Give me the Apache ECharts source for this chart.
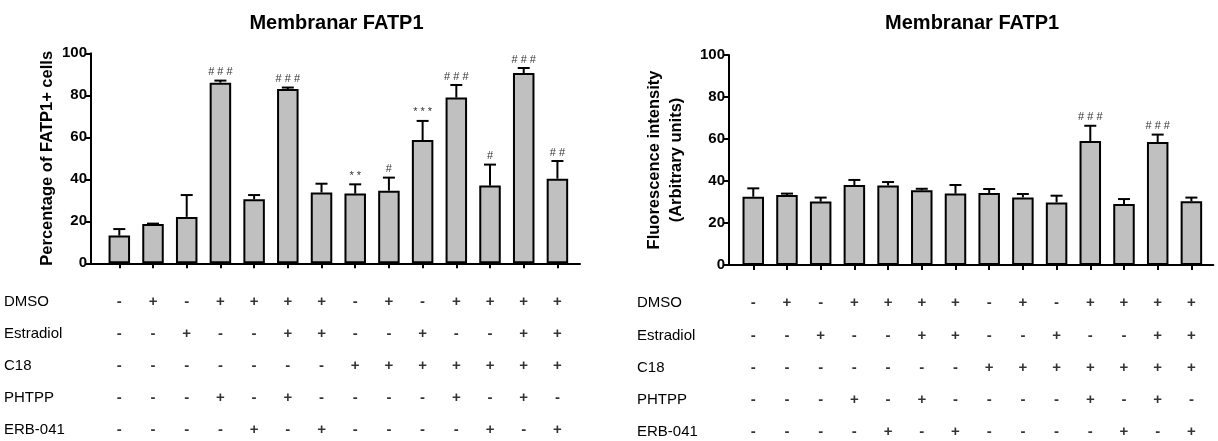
<!DOCTYPE html>
<html><head><meta charset="utf-8">
<script src="https://cdn.jsdelivr.net/npm/echarts@6/dist/echarts.min.js"></script>
<style>html,body{margin:0;padding:0;background:#fff}#c{width:1218px;height:441px}</style>
</head><body><div id="c"></div>
<script>
// ---- data ----
const groups = [1,2,3,4,5,6,7,8,9,10,11,12,13,14];
const pctMean = [13.2,18.7,22.1,86.0,30.5,83.0,33.7,33.2,34.6,58.7,78.9,37.0,90.6,40.3];
const pctSem  = [3.1,0.2,10.4,1.0,2.0,0.7,4.2,4.4,6.2,9.1,6.0,10.0,2.4,8.4];
const pctSig  = ['','','','###','','###','','**','#','***','###','#','###','##'];
const fluoMean = [32.5,33.3,30.2,38.1,37.9,35.6,34.0,34.3,32.2,29.8,59.0,29.0,58.6,30.3];
const fluoSem  = [4.0,0.7,1.9,2.4,1.6,0.7,4.1,1.9,1.6,3.2,7.3,2.4,3.5,1.8];
const fluoSig  = ['','','','','','','','','','','###','','###',''];
const rowNames = ['DMSO','Estradiol','C18','PHTPP','ERB-041'];
const dmso      = ['-','+','-','+','+','+','+','-','+','-','+','+','+','+'];
const estradiol = ['-','-','+','-','-','+','+','-','-','+','-','-','+','+'];
const c18       = ['-','-','-','-','-','-','-','+','+','+','+','+','+','+'];
const phtpp     = ['-','-','-','+','-','+','-','-','-','-','+','-','+','-'];
const erb041    = ['-','-','-','-','+','-','+','-','-','-','-','+','-','+'];
const yTicks = [0,20,40,60,80,100];
const titleText = 'Membranar FATP1';
const yNameLeft = 'Percentage of FATP1+ cells';
const yNameRight = 'Fluorescence intensity\n(Arbitrary units)';

const FONT = '"Liberation Sans", Arial, sans-serif';
const matrix = [dmso, estradiol, c18, phtpp, erb041];

function panel(k, cfg) {
  const gi = k * 2;
  const grids = [
    {left: cfg.left, top: cfg.top, width: cfg.width, height: 210},
    {left: cfg.left, top: cfg.tTop, width: cfg.width, height: cfg.tH}
  ];
  const xAxes = [
    {type:'value', gridIndex: gi, min: cfg.min, max: cfg.max,
     axisLine:{show:true, onZero:false, lineStyle:{color:'#000', width:2}},
     axisTick:{show:true, inside:false, length:5, lineStyle:{color:'#000', width:2}, customValues: groups},
     axisLabel:{show:false, customValues: groups}, splitLine:{show:false}},
    {type:'value', gridIndex: gi+1, min: cfg.min, max: cfg.max, show:false}
  ];
  const yAxes = [
    {type:'value', gridIndex: gi, min:0, max:100, interval:20,
     name: cfg.yName, nameLocation:'middle', nameGap: cfg.nameGap, nameRotate: 90,
     nameTextStyle:{fontFamily:FONT, fontWeight:'bold', fontSize:16.5, color:'#000', align:'center', lineHeight:22},
     axisLine:{show:true, lineStyle:{color:'#000', width:2}},
     axisTick:{show:true, inside:false, length:6, lineStyle:{color:'#000', width:2}},
     axisLabel:{fontFamily:FONT, fontWeight:'bold', fontSize:15, color:'#000', margin:4,
       customValues: yTicks},
     splitLine:{show:false}},
    {type:'category', gridIndex: gi+1, data: rowNames, inverse:true, boundaryGap:false,
     axisLine:{show:false}, axisTick:{show:false}, splitLine:{show:false},
     axisLabel:{fontFamily:FONT, fontSize:15, color:'#000', align:'left', margin: cfg.rowMargin}}
  ];
  const sig = cfg.sig;
  const series = [
    {type:'bar', xAxisIndex: gi, yAxisIndex: gi, barWidth: 21.5,
     data: groups.map((g,i)=>[g, cfg.mean[i]]),
     itemStyle:{color:'#c0c0c0', borderColor:'#000', borderWidth:2},
     silent:true, z:2},
    {type:'custom', xAxisIndex: gi, yAxisIndex: gi, z:3,
     data: groups.map((g,i)=>[g, cfg.mean[i], cfg.sem[i]]),
     encode:{x:0, y:1},
     renderItem(params, api) {
       const x = api.value(0), m = api.value(1), e = api.value(2);
       const p0 = api.coord([x, m]), p1 = api.coord([x, m + e]);
       const cap = 6;
       const ch = [
         {type:'line', shape:{x1:p0[0], y1:p0[1], x2:p1[0], y2:p1[1]}, style:{stroke:'#000', lineWidth:2}},
         {type:'line', shape:{x1:p1[0]-cap, y1:p1[1], x2:p1[0]+cap, y2:p1[1]}, style:{stroke:'#000', lineWidth:2}}
       ];
       const s = sig[params.dataIndex];
       if (s) ch.push({type:'text', x:p1[0], y:p1[1]-3,
         style:{text:s.split('').join(' '), align:'center', verticalAlign:'bottom', fontFamily:FONT, fontSize:11, fill:'#333'}});
       return {type:'group', children: ch};
     }},
    {type:'scatter', xAxisIndex: gi+1, yAxisIndex: gi+1, symbolSize:1,
     itemStyle:{color:'rgba(0,0,0,0)'}, silent:true,
     data: matrix.flatMap((row, r)=> row.map((v, c)=>[groups[c], r, v])),
     label:{show:true, position:'inside', formatter: p => p.value[2],
       fontFamily:FONT, fontWeight:'bold', fontSize:15, color:'#000'}}
  ];
  const title = {text: titleText, left: cfg.left + cfg.width/2 - 4, top: 8, textAlign:'center',
    textStyle:{fontFamily:FONT, fontWeight:'bold', fontSize:20, color:'#000'}};
  return {grids, xAxes, yAxes, series, title};
}

const L = panel(0, {left:91, top:53.3, width:489, min:0.16, max:14.67, tTop:301.7, tH:128.3,
  mean:pctMean, sem:pctSem, sig:pctSig, yName:yNameLeft, nameGap:33, rowMargin:87});
const R = panel(1, {left:729, top:55, width:484.3, min:0.28, max:14.65, tTop:303.3, tH:128.4,
  mean:fluoMean, sem:fluoSem, sig:fluoSig, yName:yNameRight, nameGap:42, rowMargin:92});

const chart = echarts.init(document.getElementById('c'), null, {renderer:'canvas'});
chart.setOption({
  animation:false,
  backgroundColor:'#fff',
  title:[L.title, R.title],
  grid:[...L.grids, ...R.grids],
  xAxis:[...L.xAxes, ...R.xAxes],
  yAxis:[...L.yAxes, ...R.yAxes],
  series:[...L.series, ...R.series]
});
</script></body></html>
